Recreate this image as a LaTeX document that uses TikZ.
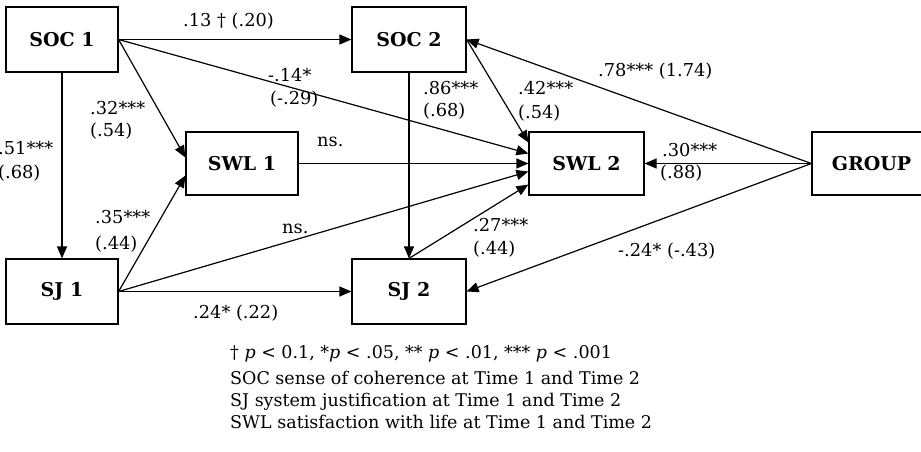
\documentclass[tikz,border=0pt]{standalone}
\usepackage{fontspec}
\setmainfont{DejaVu Serif}
\usetikzlibrary{arrows.meta,calc}
\begin{document}
\begin{tikzpicture}[x=1pt,y=-1pt,
  box/.style={draw,line width=1.2pt,minimum width=112pt,minimum height=65pt,inner sep=0pt,font=\fontsize{19}{21}\selectfont\bfseries},
  arr/.style={line width=1.2pt,-{Triangle[length=12pt,width=10pt]}},
  lab/.style={anchor=base west,inner sep=0pt,font=\fontsize{17.8}{20}\selectfont},
  leg/.style={anchor=base west,inner sep=0pt,font=\fontsize{17.5}{20}\selectfont}]
\useasboundingbox (0,0) rectangle (921,451);
% boxes
\node[box] (soc1) at (62,39.5) {SOC 1};
\node[box,minimum height=63pt] (swl1) at (242,163.5) {SWL 1};
\node[box,minimum width=114pt] (soc2) at (409,39.5) {SOC 2};
\node[box,minimum width=115pt,minimum height=63pt] (swl2) at (586.5,163.5) {SWL 2};
\node[box,minimum width=113pt,minimum height=63pt] (group) at (868.5,163.5) {\hspace*{6pt}GROUP};
\node[box] (sj1) at (62,291.5) {SJ 1};
\node[box,minimum width=114pt] (sj2) at (409,291.5) {SJ 2};
% arrows
\draw[arr] (soc1.east) -- (soc2.west);
\draw[arr] (soc1.east) -- ($(swl2.west)+(0,-10)$);
\draw[arr] (soc1.east) -- ($(swl1.west)+(0,-6)$);
\draw[arr] (soc1.south) -- (sj1.north);
\draw[arr] (sj1.east) -- ($(swl1.west)+(0,12)$);
\draw[arr] (sj1.east) -- ($(swl2.west)+(0,8)$);
\draw[arr] (sj1.east) -- (sj2.west);
\draw[arr] (swl1.east) -- (swl2.west);
\draw[arr] (soc2.south) -- (sj2.north);
\draw[arr] (soc2.east) -- ($(swl2.west)+(0,-21)$);
\draw[arr] (sj2.north) -- ($(swl2.west)+(0,21)$);
\draw[arr] (group.west) -- (soc2.east);
\draw[arr] (group.west) -- (swl2.east);
\draw[arr] (group.west) -- (sj2.east);
% labels
\node[lab] (l13) at (183,26) {.13 † (.20)};
\node[lab] (l14a) at (268,81) {-.14*};
\node[lab] (l14b) at (270,104) {(-.29)};
\node[lab] (l32a) at (90,114) {.32***};
\node[lab] (l32b) at (90,136) {(.54)};
\node[lab] (l51a) at (-2,154) {.51***};
\node[lab] (l51b) at (-2,178) {(.68)};
\node[lab] (lns1) at (317,146) {ns.};
\node[lab] (l86a) at (423,94) {.86***};
\node[lab] (l86b) at (423,116) {(.68)};
\node[lab] (l42a) at (518,94) {.42***};
\node[lab] (l42b) at (518,118) {(.54)};
\node[lab] (l78) at (598,76) {.78*** (1.74)};
\node[lab] (l30a) at (662,156) {.30***};
\node[lab] (l30b) at (660,178) {(.88)};
\node[lab] (l35a) at (95,223) {.35***};
\node[lab] (l35b) at (95,249) {(.44)};
\node[lab] (lns2) at (282,233) {ns.};
\node[lab] (l24) at (193,318) {.24* (.22)};
\node[lab] (l27a) at (473,231) {.27***};
\node[lab] (l27b) at (473,254) {(.44)};
\node[lab] (lm24) at (618,256) {-.24* (-.43)};
% legend
\node[leg] (leg1) at (230,358) {† \textit{p} < 0.1, *\textit{p} < .05, ** \textit{p} < .01, *** \textit{p} < .001};
\node[leg] (leg2) at (230,384) {SOC sense of coherence at Time 1 and Time 2};
\node[leg] (leg3) at (230,406) {SJ system justification at Time 1 and Time 2};
\node[leg] (leg4) at (230,428) {SWL satisfaction with life at Time 1 and Time 2};
\end{tikzpicture}
\end{document}
